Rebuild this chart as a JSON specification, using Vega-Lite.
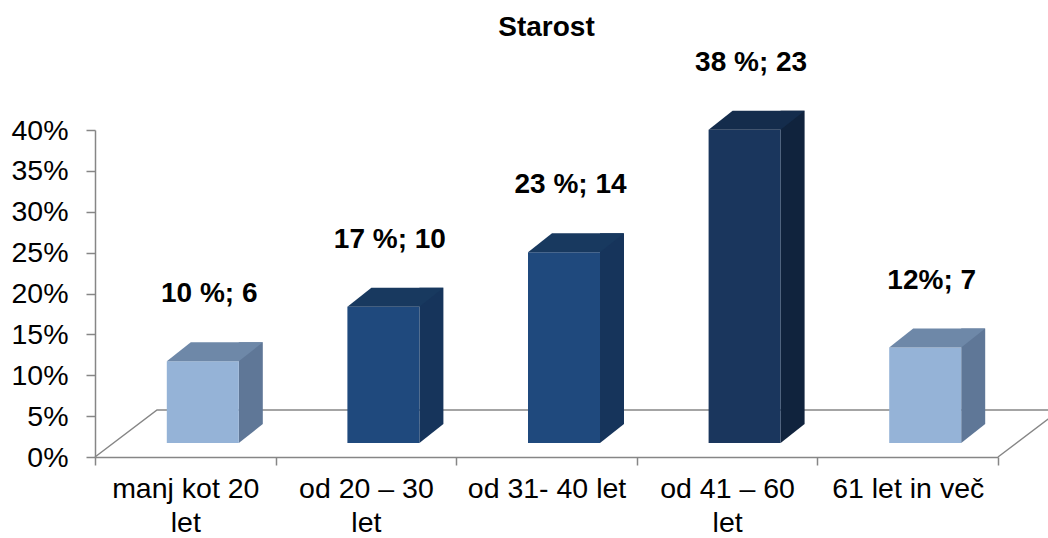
{
  "$schema": "https://vega.github.io/schema/vega-lite/v6.json",
  "width": 903,
  "height": 327,
  "autosize": {"type": "none"},
  "padding": {"left": 95, "top": 130, "right": 50, "bottom": 81},
  "background": "white",
  "config": {"view": {"stroke": null}, "font": "Liberation Sans"},
  "title": {"text": "Starost", "fontSize": 28, "fontWeight": "bold", "font": "Liberation Sans", "color": "#000", "anchor": "middle", "offset": -15, "baseline": "alphabetic"},
  "data": {"values": [
    {"age": "manj kot 20 let", "share": 0.1, "label": "10 %; 6", "tone": "light"},
    {"age": "od 20 – 30 let", "share": 0.1667, "label": "17 %; 10", "tone": "mid"},
    {"age": "od 31- 40 let", "share": 0.2333, "label": "23 %; 14", "tone": "mid"},
    {"age": "od 41 – 60 let", "share": 0.3833, "label": "38 %; 23", "tone": "dark"},
    {"age": "61 let in več", "share": 0.1167, "label": "12%; 7", "tone": "light"}
  ]},
  "encoding": {
    "x": {"field": "age", "type": "nominal", "sort": null,
      "scale": {"paddingInner": 0, "paddingOuter": 0},
      "axis": {"title": null, "domainColor": "#868686", "domainWidth": 1.5, "tickColor": "#868686", "tickWidth": 1.5, "tickSize": 8, "tickBand": "extent",
        "labelFontSize": 28.5, "labelFont": "Liberation Sans", "labelColor": "#000", "labelPadding": 9, "labelAngle": 0, "labelLineHeight": 34, "labelLimit": 400,
        "labelExpr": "datum.value == 'manj kot 20 let' ? ['manj kot 20', 'let'] : datum.value == 'od 20 – 30 let' ? ['od 20 – 30', 'let'] : datum.value == 'od 41 – 60 let' ? ['od 41 – 60', 'let'] : datum.label"}},
    "y": {"field": "share", "type": "quantitative",
      "scale": {"domain": [0, 0.4], "nice": false},
      "axis": {"title": null, "values": [0, 0.05, 0.1, 0.15, 0.2, 0.25, 0.3, 0.35, 0.4], "format": ".0%", "grid": false,
        "domainColor": "#868686", "domainWidth": 1.5, "tickColor": "#868686", "tickWidth": 1.5, "tickSize": 9,
        "labelFontSize": 28.5, "labelFont": "Liberation Sans", "labelColor": "#000", "labelPadding": 18}}
  },
  "layer": [
    {
      "transform": [{"filter": "datum.age == 'manj kot 20 let'"}],
      "mark": {"type": "point", "shape": "M-90.3,0L-28.3,-47L874.7,-47L812.7,0", "size": 4, "filled": false, "fill": "transparent", "stroke": "#868686", "strokeWidth": 1.5, "opacity": 1},
      "encoding": {"y": {"datum": 0}}
    },
    {
      "mark": {"type": "bar", "width": 24, "xOffset": 65.5, "yOffset": -33, "y2Offset": -33},
      "encoding": {
        "y2": {"datum": 0},
        "color": {"field": "tone", "type": "nominal", "legend": null, "scale": {"domain": ["light", "mid", "dark"], "range": ["#5F7797", "#16345B", "#10233D"]}}
      }
    },
    {
      "mark": {"type": "point", "shape": "M53.5,-14L77.5,-33L53.5,-33Z", "size": 4, "filled": true, "opacity": 1, "strokeWidth": 0},
      "encoding": {
        "y": {"datum": 0},
        "fill": {"field": "tone", "type": "nominal", "legend": null, "scale": {"domain": ["light", "mid", "dark"], "range": ["#5F7797", "#16345B", "#10233D"]}}
      }
    },
    {
      "mark": {"type": "bar", "width": 72, "xOffset": 17.5, "yOffset": -14, "y2Offset": -14},
      "encoding": {
        "y2": {"datum": 0},
        "color": {"field": "tone", "type": "nominal", "legend": null, "scale": {"domain": ["light", "mid", "dark"], "range": ["#95B3D7", "#1F497D", "#1A365D"]}}
      }
    },
    {
      "mark": {"type": "point", "shape": "M-18.5,-14L53.5,-14L77.5,-33L5.5,-33Z", "size": 4, "filled": true, "opacity": 1, "strokeWidth": 0},
      "encoding": {
        "fill": {"field": "tone", "type": "nominal", "legend": null, "scale": {"domain": ["light", "mid", "dark"], "range": ["#6E88A8", "#18395F", "#142C4C"]}}
      }
    },
    {
      "mark": {"type": "text", "fontSize": 28, "fontWeight": "bold", "font": "Liberation Sans", "dx": 24, "dy": -73, "baseline": "alphabetic", "align": "center", "color": "#000"},
      "encoding": {"text": {"field": "label"}}
    }
  ],
  "resolve": {"scale": {"color": "independent", "fill": "independent"}}
}
